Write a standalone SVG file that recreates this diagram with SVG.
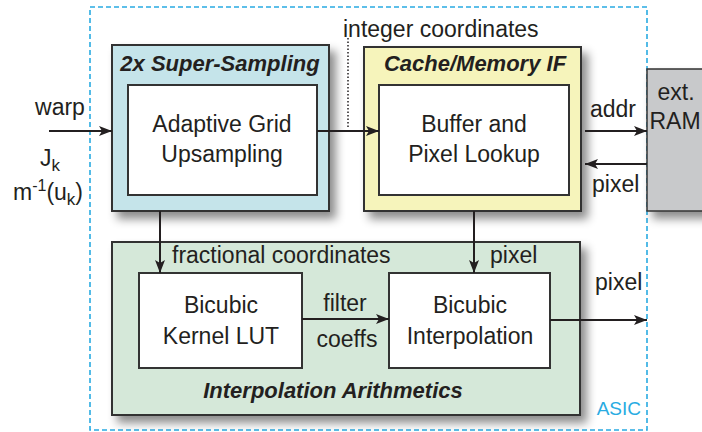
<svg xmlns="http://www.w3.org/2000/svg" width="702" height="432" viewBox="0 0 702 432">
<style>
  text { font-family: "Liberation Sans", Arial, sans-serif; fill: #231f20; }
  .lbl { font-size: 23px; }
  .ttl { font-size: 22px; font-weight: bold; font-style: italic; }
  .mid { text-anchor: middle; }
  .outer { stroke: #333; stroke-width: 2; }
  .inner { fill: #fff; stroke: #333; stroke-width: 2; }
  .wire { stroke: #231f20; stroke-width: 2; fill: none; }
</style>
<defs>
  <filter id="sh" x="-10%" y="-10%" width="130%" height="130%">
    <feDropShadow dx="6" dy="7" stdDeviation="5" flood-color="#000" flood-opacity="0.45"/>
  </filter>
  <marker id="ah" markerUnits="userSpaceOnUse" markerWidth="14" markerHeight="12" refX="13" refY="6" orient="auto">
    <path d="M0,1 L13,6 L0,11 L3,6 z" fill="#231f20"/>
  </marker>
</defs>

<g id="asic">
  <rect x="90" y="7" width="557" height="423" fill="none" stroke="#29abe2" stroke-width="1.6" stroke-dasharray="5,3"/>
  <text x="641" y="415" font-size="19" style="fill:#29abe2" text-anchor="end">ASIC</text>
</g>

<g id="ext-ram">
  <rect x="647" y="69" width="60" height="142" fill="#c8c9cb" stroke="#333" stroke-width="1.5" filter="url(#sh)"/>
  <text class="lbl mid" x="676" y="100">ext.</text>
  <text class="lbl mid" x="675" y="129">RAM</text>
</g>

<g id="super-sampling">
  <rect class="outer" x="112" y="45" width="217" height="166" fill="#c5e4ea" filter="url(#sh)"/>
  <text class="ttl mid" x="220" y="71">2x Super-Sampling</text>
</g>
<g id="upsampling">
  <rect class="inner" x="128" y="85" width="189" height="110"/>
  <text class="lbl mid" x="222" y="132">Adaptive Grid</text>
  <text class="lbl mid" x="222" y="162">Upsampling</text>
</g>

<g id="cache">
  <rect class="outer" x="364" y="47" width="217" height="164" fill="#f6f4bb" filter="url(#sh)"/>
  <text class="ttl mid" x="475" y="71">Cache/Memory IF</text>
</g>
<g id="buffer">
  <rect class="inner" x="379" y="85" width="190" height="110"/>
  <text class="lbl mid" x="474" y="132">Buffer and</text>
  <text class="lbl mid" x="474" y="162">Pixel Lookup</text>
</g>

<g id="interp-arith">
  <rect class="outer" x="112" y="242" width="468" height="173" fill="#d5e8d9" filter="url(#sh)"/>
  <text class="ttl mid" x="333" y="398">Interpolation Arithmetics</text>
</g>
<g id="kernel-lut">
  <rect class="inner" x="139" y="273" width="163" height="95"/>
  <text class="lbl mid" x="221" y="313">Bicubic</text>
  <text class="lbl mid" x="221" y="344">Kernel LUT</text>
</g>
<g id="bicubic-interp">
  <rect class="inner" x="389" y="273" width="161" height="95"/>
  <text class="lbl mid" x="470" y="313">Bicubic</text>
  <text class="lbl mid" x="470" y="344">Interpolation</text>
</g>

<g id="connectors">
  <line class="wire" x1="49" y1="131" x2="112" y2="131" marker-end="url(#ah)"/>
  <line class="wire" x1="317" y1="131" x2="379" y2="131" marker-end="url(#ah)"/>
  <line x1="348" y1="38" x2="348" y2="127" stroke="#231f20" stroke-width="1.5" stroke-dasharray="1.5,2"/>
  <line class="wire" x1="585" y1="131" x2="647" y2="131" marker-end="url(#ah)"/>
  <line class="wire" x1="647" y1="164" x2="585" y2="164" marker-end="url(#ah)"/>
  <line class="wire" x1="160" y1="211" x2="160" y2="273" marker-end="url(#ah)"/>
  <line class="wire" x1="474" y1="211" x2="474" y2="273" marker-end="url(#ah)"/>
  <line class="wire" x1="302" y1="319" x2="389" y2="319" marker-end="url(#ah)"/>
  <line class="wire" x1="550" y1="320" x2="647" y2="320" marker-end="url(#ah)"/>

  <text class="lbl mid" x="60" y="115">warp</text>
  <text class="lbl" x="40" y="166">J<tspan font-size="17" dy="5">k</tspan></text>
  <text class="lbl" x="13" y="200">m<tspan font-size="16" dy="-9">-1</tspan><tspan dy="9">(u</tspan><tspan font-size="17" dy="5">k</tspan><tspan dy="-5">)</tspan></text>
  <text class="lbl" x="343" y="37">integer coordinates</text>
  <text class="lbl" x="590" y="117">addr</text>
  <text class="lbl" x="592" y="192">pixel</text>
  <text class="lbl" x="172" y="263">fractional coordinates</text>
  <text class="lbl" x="490" y="263">pixel</text>
  <text class="lbl mid" x="345" y="311">filter</text>
  <text class="lbl mid" x="347" y="347">coeffs</text>
  <text class="lbl" x="595" y="290">pixel</text>
</g>
</svg>
